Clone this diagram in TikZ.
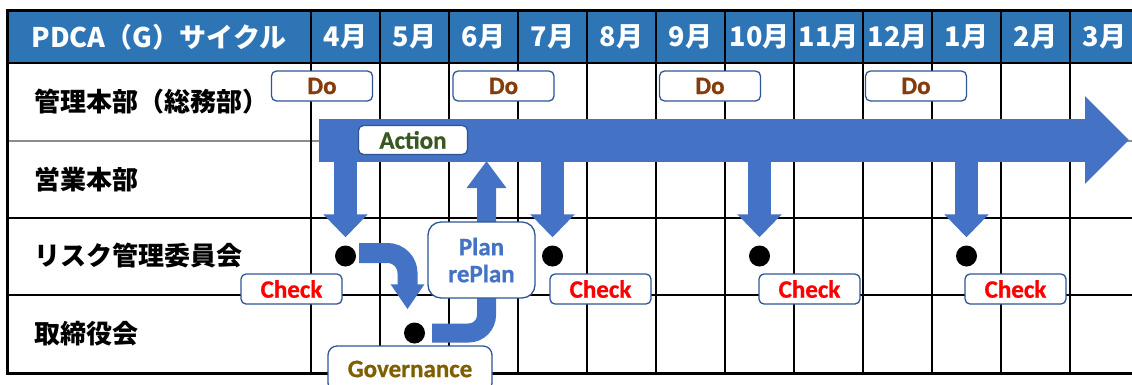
\documentclass[tikz,border=0pt]{standalone}
\usepackage{fontspec}
\setmainfont{Carlito}[BoldFont=* Bold,BoldFeatures={FakeBold=0.8}]
\newfontfamily\jpfont{Noto Sans CJK JP}
\usetikzlibrary{arrows.meta}
\definecolor{hdrblue}{HTML}{2E75B6}
\definecolor{flowblue}{HTML}{4472C4}
\definecolor{boxline}{HTML}{2F5597}
\definecolor{dobrown}{HTML}{843C0C}
\definecolor{actgreen}{HTML}{385723}
\definecolor{govolive}{HTML}{7F6000}

\begin{document}
\begin{tikzpicture}[x=1pt,y=-1pt,
        tag/.style={rectangle,rounded corners=5pt,draw=boxline,line width=1.3pt,fill=white,
            minimum width=101pt,minimum height=30pt,inner sep=0pt,font=\fontsize{25}{27}\selectfont\bfseries},
        flow/.style={draw=flowblue,fill=flowblue,line cap=butt}]
        \useasboundingbox (0,0) rectangle (1132,384);
        \clip (0,0) rectangle (1132,384);
        \fill[hdrblue] (7,10) rectangle (1140,63);
        \draw[black!45,line width=2pt] (7,141) -- (1140,141);
        \foreach \y in {63,218,295} \draw[line width=2pt] (7,\y) -- (1140,\y);
        \foreach \i in {0,...,12} \draw[line width=2pt] (311+69*\i,10) -- (311+69*\i,373);
        \draw[line width=3pt] (1140,373) -- (7,373) -- (7,10) -- (1140,10);
        \begin{scope}[every node/.style={text=white,font=\jpfont\fontsize{27}{30}\selectfont\bfseries}]
            \node (h0) at (159,37) {PDCA（G）サイクル};
            \foreach \m [count=\i] in {4,5,6,7,8,9,10,11,12,1,2,3}
                \node (m\i) at (276.5+69*\i,37) {\m 月};
        \end{scope}
        \begin{scope}[every node/.style={anchor=west,inner sep=0pt,font=\jpfont\fontsize{26}{30}\selectfont\bfseries}]
            \node (r1) at (34,102) {管理本部（総務部）};
            \node (r2) at (34,180) {営業本部};
            \node (r3) at (34,256) {リスク管理委員会};
            \node (r4) at (34,334) {取締役会};
        \end{scope}
        \begin{scope}[every node/.style={circle,fill=black,minimum size=21pt,inner sep=0pt}]
            \node (c1) at (345.5,256) {};
            \node (g0) at (414.5,333) {};
            \node (c2) at (552.5,256) {};
            \node (c3) at (759.5,256) {};
            \node (c4) at (966.5,256) {};
        \end{scope}
        \coordinate (a0) at (319,140);
        \coordinate (a1) at (1129,140);
        \coordinate (u0) at (486.5,161);
        \draw[flow,line width=43pt,-{Triangle[length=44pt,width=85pt]}] (a0) -- (a1);
        \foreach \c in {c1,c2,c3,c4}
            \draw[flow,line width=23pt,-{Triangle[length=23pt,width=43pt]},shorten >=8pt] (\c |- a0) -- (\c);
        \draw[flow,fill=none,line width=20pt,rounded corners=20pt,-{Triangle[length=25pt,width=32pt,fill=flowblue]},shorten <=3pt,shorten >=13pt]
            ([yshift=3pt]c1.east) -| ([xshift=-7pt]g0.north);
        \draw[flow,fill=none,line width=19pt,rounded corners=18pt,-{Triangle[length=27pt,width=38pt,fill=flowblue]},shorten <=7pt]
            (g0.east) -| (u0);
        \begin{scope}[every node/.style={tag}]
            \node (do1) [text=dobrown] at (322,86) {Do};
            \node (do2) [text=dobrown] at (503.5,86) {Do};
            \node (do3) [text=dobrown] at (710,86) {Do};
            \node (do4) [text=dobrown] at (916,86) {Do};
            \node (act) [text=actgreen,minimum width=109pt,minimum height=29pt] at (413,140) {Action};
            \node (ck1) [text=red] at (291.5,289) {Check};
            \node (ck2) [text=red] at (600.5,289) {Check};
            \node (ck3) [text=red] at (809.5,289) {Check};
            \node (ck4) [text=red] at (1015.5,289) {Check};
            \node (plan) [text=flowblue,align=center,minimum width=107pt,minimum height=76pt,rounded corners=13pt] at (481.5,260) {Plan\\rePlan};
            \node (gov) [text=govolive,minimum width=164pt,minimum height=46pt,rounded corners=9pt] at (410,369) {Governance};
        \end{scope}
\end{tikzpicture}
\end{document}
